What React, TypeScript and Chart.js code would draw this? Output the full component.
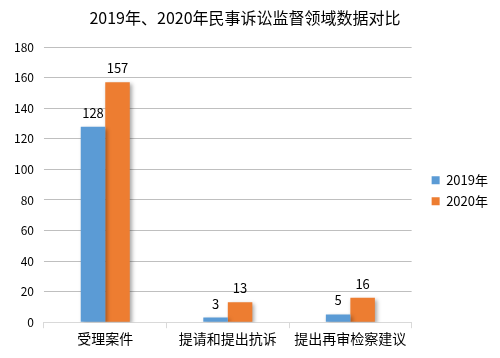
import React, { useEffect, useRef } from "react";
import { Chart, registerables } from "chart.js";

Chart.register(...registerables);

const categories = ["受理案件", "提请和提出抗诉", "提出再审检察建议"];
const series2019 = [128, 3, 5];
const series2020 = [157, 13, 16];
const seriesNames = ["2019年", "2020年"];
const titleText = "2019年、2020年民事诉讼监督领域数据对比";

const FONT = "'Noto Sans CJK SC', sans-serif";

const shadowPlugin = {
  id: "barShadow",
  beforeDraw(chart: any) {
    const lg = chart.legend;
    if (lg) {
      const w = lg.width;
      const h = chart.chartArea.bottom - chart.chartArea.top;
      lg.left = chart.chartArea.right + 12;
      lg.right = lg.left + w;
      lg.top = chart.chartArea.top + 6;
      lg.bottom = lg.top + h;
    }
  },
  beforeDatasetsDraw(chart: any) {
    const ctx = chart.ctx;
    ctx.save();
    ctx.shadowColor = "rgba(0,0,0,0.35)";
    ctx.shadowBlur = 4;
    ctx.shadowOffsetX = 2;
    ctx.shadowOffsetY = 2;
  },
  afterDatasetsDraw(chart: any) {
    const ctx = chart.ctx;
    ctx.restore();
    ctx.save();
    ctx.font = `13px ${FONT}`;
    ctx.fillStyle = "#000";
    ctx.textAlign = "center";
    ctx.textBaseline = "middle";
    chart.data.datasets.forEach((ds: any, i: number) => {
      const meta = chart.getDatasetMeta(i);
      meta.data.forEach((bar: any, j: number) => {
        ctx.fillText(String(ds.data[j]), bar.x, bar.y - 14);
      });
    });
    ctx.restore();
  },
};

export default function App() {
  const ref = useRef<HTMLCanvasElement>(null);
  useEffect(() => {
    if (!ref.current) return;
    const chart = new Chart(ref.current, {
      type: "bar",
      data: {
        labels: categories,
        datasets: [
          { label: seriesNames[0], data: series2019, backgroundColor: "#5B9BD5" },
          { label: seriesNames[1], data: series2020, backgroundColor: "#ED7D31" },
        ],
      },
      options: {
        animation: false,
        responsive: false,
        maintainAspectRatio: false,
        layout: { padding: { left: 4, right: 14, top: 8, bottom: 9 } },
        datasets: { bar: { barPercentage: 1, categoryPercentage: 0.4 } } as any,
        plugins: {
          title: {
            display: true,
            text: titleText,
            color: "#000",
            font: { family: FONT, size: 16, weight: "normal" },
            padding: { top: 0, bottom: 20 },
          },
          legend: {
            position: "right",
            labels: {
              boxWidth: 8,
              boxHeight: 8,
              color: "#000",
              font: { family: FONT, size: 13 },
              padding: 8,
            },
          },
          tooltip: { enabled: false },
        },
        scales: {
          x: {
            grid: {
              display: true,
              drawOnChartArea: false,
              offset: true,
              tickLength: 6,
              color: "#d9d9d9",
            },
            border: { display: true, color: "#d9d9d9" },
            ticks: { color: "#000", font: { family: FONT, size: 14 }, padding: 2 },
          },
          y: {
            min: 0,
            max: 180,
            ticks: { stepSize: 20, color: "#000", font: { family: FONT, size: 12 }, padding: 10 },
            grid: { color: "#bfbfbf", tickLength: 0 },
            border: { display: false },
          },
        },
      },
      plugins: [shadowPlugin],
    });
    return () => chart.destroy();
  }, []);
  return (
    <div style={{ position: "absolute", left: 0, top: 0, width: 500, height: 358 }}>
      <canvas ref={ref} width={500} height={358} style={{ width: 500, height: 358 }} />
    </div>
  );
}
